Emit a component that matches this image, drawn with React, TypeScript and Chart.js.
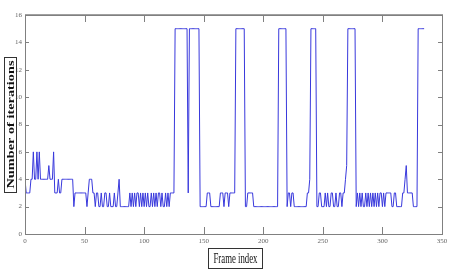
import React, { useEffect, useRef } from "react";
import { Chart, registerables } from "chart.js";

Chart.register(...registerables);

// Number of iterations for each frame (frame index = array position)
const iterations: number[] = [
  4, 3, 3, 3, 3, 4, 4, 6, 4, 4,
  6, 4, 6, 4, 4, 4, 4, 4, 4, 4,
  5, 4, 4, 4, 6, 3, 3, 3, 4, 3,
  3, 4, 4, 4, 4, 4, 4, 4, 4, 4,
  4, 2, 3, 3, 3, 3, 3, 3, 3, 3,
  3, 3, 2, 3, 4, 4, 4, 3, 3, 2,
  3, 3, 2, 2, 3, 2, 2, 3, 3, 2,
  2, 3, 2, 2, 2, 3, 2, 2, 3, 4,
  2, 2, 2, 2, 2, 2, 2, 2, 3, 2,
  3, 2, 3, 2, 3, 3, 2, 3, 2, 3,
  2, 3, 2, 3, 2, 2, 3, 2, 3, 2,
  3, 2, 3, 3, 2, 3, 2, 2, 3, 2,
  3, 2, 3, 3, 3, 3, 15, 15, 15, 15,
  15, 15, 15, 15, 15, 15, 15, 3, 15, 15,
  15, 15, 15, 15, 15, 15, 15, 2, 2, 2,
  2, 2, 2, 3, 3, 3, 2, 2, 2, 2,
  2, 2, 2, 2, 3, 3, 3, 2, 3, 3,
  3, 2, 3, 3, 3, 3, 3, 15, 15, 15,
  15, 15, 15, 15, 15, 2, 2, 3, 3, 3,
  3, 3, 2, 2, 2, 2, 2, 2, 2, 2,
  2, 2, 2, 2, 2, 2, 2, 2, 2, 2,
  2, 2, 2, 15, 15, 15, 15, 15, 15, 15,
  2, 3, 3, 2, 3, 3, 2, 2, 2, 2,
  2, 2, 2, 2, 2, 2, 2, 3, 3, 4,
  15, 15, 15, 15, 15, 2, 2, 3, 3, 2,
  2, 2, 3, 2, 3, 2, 2, 3, 3, 2,
  2, 3, 2, 2, 3, 3, 2, 3, 3, 4,
  5, 15, 15, 15, 15, 15, 15, 15, 2, 3,
  2, 3, 2, 3, 2, 2, 3, 2, 3, 2,
  3, 2, 3, 2, 3, 2, 3, 2, 3, 3,
  2, 3, 2, 3, 3, 3, 3, 3, 2, 2,
  3, 3, 2, 2, 2, 2, 2, 3, 3, 4,
  5, 3, 3, 3, 3, 3, 2, 2, 2, 2,
  15, 15, 15, 15, 15, 15,
];

const xTickValues: number[] = [0, 50, 100, 150, 200, 250, 300, 350];
const yTickValues: number[] = [0, 2, 4, 6, 8, 10, 12, 14, 16];
const xTitle = "Frame index";
const yTitle = "Number of iterations";

const AXIS_COLOR = "#808080";
const TEXT_COLOR = "#666666";
const LINE_COLOR = "#3838dc";
const SERIF = "'Liberation Serif', 'Times New Roman', serif";

const framePlugin = {
  id: "matlabFrame",
  afterDraw(chart: any) {
    const { ctx, chartArea } = chart;
    const { left, right, top, bottom } = chartArea;
    const xs = chart.scales.x;
    const ys = chart.scales.y;
    ctx.save();
    // box
    ctx.strokeStyle = AXIS_COLOR;
    ctx.lineWidth = 1;
    ctx.strokeRect(left + 0.5, top + 0.5, right - left, bottom - top);
    ctx.lineWidth = 1.5;
    ctx.beginPath();
    ctx.moveTo(left, top);
    ctx.lineTo(right + 1, top);
    ctx.stroke();
    // inward ticks
    ctx.lineWidth = 1;
    ctx.beginPath();
    for (const v of xTickValues) {
      const px = Math.round(xs.getPixelForValue(v)) + 0.5;
      ctx.moveTo(px, bottom);
      ctx.lineTo(px, bottom - 7);
      ctx.moveTo(px, top);
      ctx.lineTo(px, top + 7);
    }
    for (const v of yTickValues) {
      const py = Math.round(ys.getPixelForValue(v)) + 0.5;
      ctx.moveTo(left, py);
      ctx.lineTo(left + 4, py);
      ctx.moveTo(right, py);
      ctx.lineTo(right - 4, py);
    }
    ctx.stroke();

    // x title in a box
    ctx.fillStyle = "#111";
    ctx.strokeStyle = "#333";
    ctx.lineWidth = 1;
    ctx.strokeRect(208.5, 248.5, 54, 20);
    ctx.font = `14px ${SERIF}`;
    ctx.textBaseline = "middle";
    ctx.textAlign = "center";
    let w = ctx.measureText(xTitle).width;
    ctx.save();
    ctx.translate(235.5, 259);
    ctx.scale(44 / w, 1);
    ctx.fillText(xTitle, 0, 0);
    ctx.restore();

    // y title in a box
    ctx.strokeRect(4.5, 57.5, 12, 135);
    ctx.font = `bold 12px ${SERIF}`;
    w = ctx.measureText(yTitle).width;
    ctx.save();
    ctx.translate(10.8, 124.5);
    ctx.rotate(-Math.PI / 2);
    ctx.scale(128 / w, 0.95);
    ctx.fillText(yTitle, 0, 0);
    ctx.restore();
    ctx.restore();
  },
};

export default function App() {
  const ref = useRef<HTMLCanvasElement | null>(null);
  useEffect(() => {
    document.body.style.margin = "0";
    const canvas = ref.current;
    if (!canvas) return;
    const chart = new Chart(canvas, {
      type: "line",
      data: {
        datasets: [
          {
            data: iterations.map((v, i) => ({ x: i, y: v })),
            borderColor: LINE_COLOR,
            borderWidth: 1,
            pointRadius: 0,
            tension: 0,
            fill: false,
          },
        ],
      },
      options: {
        responsive: false,
        animation: false,
        events: [],
        layout: { padding: { left: 0, top: 15, right: 10, bottom: 0 } },
        plugins: {
          legend: { display: false },
          tooltip: { enabled: false },
          title: { display: false },
        },
        scales: {
          x: {
            type: "linear",
            min: 0,
            max: 350,
            afterBuildTicks: (s: any) => {
              s.ticks = xTickValues.map((v) => ({ value: v }));
            },
            afterFit: (s: any) => {
              s.height = 40;
            },
            grid: { display: false, drawTicks: false },
            border: { display: false },
            ticks: {
              font: { family: SERIF, size: 7 },
              color: TEXT_COLOR,
              padding: 3,
              maxRotation: 0,
              autoSkip: false,
            },
          },
          y: {
            type: "linear",
            min: 0,
            max: 16,
            afterBuildTicks: (s: any) => {
              s.ticks = yTickValues.map((v) => ({ value: v }));
            },
            afterFit: (s: any) => {
              s.width = 25;
            },
            grid: { display: false, drawTicks: false },
            border: { display: false },
            ticks: {
              font: { family: SERIF, size: 7 },
              color: TEXT_COLOR,
              padding: 3,
              autoSkip: false,
            },
          },
        },
      },
      plugins: [framePlugin],
    });
    return () => chart.destroy();
  }, []);
  return (
    <div style={{ position: "absolute", left: 0, top: 0, width: 452, height: 274, background: "#fff" }}>
      <canvas ref={ref} width={452} height={274} style={{ display: "block" }} />
    </div>
  );
}
